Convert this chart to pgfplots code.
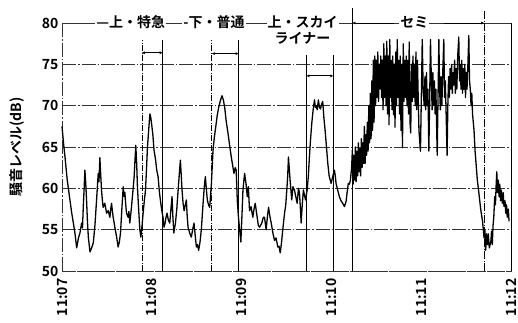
\documentclass[border=0pt]{standalone}
\usepackage{fontspec}
\setmainfont{Noto Sans CJK JP}[UprightFont={* Bold}]
\usepackage{pgfplots}
\pgfplotsset{compat=1.18}
\usetikzlibrary{arrows.meta}
\begin{document}
\begin{tikzpicture}
\begin{axis}[name=ax,
  scale only axis, width=449pt, height=248pt,
  xmin=0, xmax=300, ymin=50, ymax=80,
  xtick={0,60,120,180,240,300},
  xticklabels={11:07,11:08,11:09,11:10,11:11,11:12},
  ytick={50,55,60,65,70,75,80},
  x tick label style={rotate=90, anchor=east, font=\fontsize{14}{16}\selectfont, xshift=-4pt},
  y tick label style={font=\fontsize{14}{16}\selectfont},
  /pgf/number format/assume math mode=true,
  tick style={draw=none},
  ymajorgrids,
  grid style={black!80, line width=0.5pt, dash pattern=on 14pt off 2pt on 1.5pt off 2pt},
  axis line style={black!80, line width=0.5pt, dash pattern=on 14pt off 2pt on 1.5pt off 2pt},
  ylabel={騒音レベル(dB)},
  ylabel style={font=\fontsize{14}{16}\selectfont, yshift=11pt},
  clip=false,
]
% event markers
\draw[black, line width=0.5pt, dash pattern=on 6pt off 1.5pt on 1pt off 1.5pt] (axis cs:53.3,50) -- (axis cs:53.3,77.9);
\draw[black, line width=0.5pt] (axis cs:67.3,50) -- (axis cs:67.3,77.9);
\draw[black, line width=0.5pt, dash pattern=on 6pt off 1.5pt on 1pt off 1.5pt] (axis cs:100,50) -- (axis cs:100,77.9);
\draw[black, line width=0.5pt] (axis cs:118,50) -- (axis cs:118,77.9);
\draw[black, line width=0.5pt] (axis cs:163.3,50) -- (axis cs:163.3,76.1);
\draw[black, line width=0.5pt] (axis cs:181.3,50) -- (axis cs:181.3,76.1);
\draw[black, line width=0.5pt] (axis cs:194,50) -- (axis cs:194,81.8);
\draw[black, line width=0.5pt, dash pattern=on 8pt off 1.5pt on 1pt off 1.5pt] (axis cs:282,50) -- (axis cs:282,81.5);
\draw[black, line width=0.5pt] (axis cs:300,50) -- (axis cs:300,80);
% arrows
\draw[{Latex[length=3pt,width=3pt]}-{Latex[length=3pt,width=3pt]}, line width=0.9pt] (axis cs:53.3,76.4) -- (axis cs:67.3,76.4);
\draw[{Latex[length=3pt,width=3pt]}-{Latex[length=3pt,width=3pt]}, line width=0.9pt] (axis cs:100,76.3) -- (axis cs:118,76.3);
\draw[{Latex[length=3pt,width=3pt]}-{Latex[length=3pt,width=3pt]}, line width=0.9pt] (axis cs:163.3,73.6) -- (axis cs:181.3,73.6);
\draw[{Latex[length=3pt,width=3pt]}-, line width=0.8pt] (axis cs:194,80) -- (axis cs:222,80);
\draw[-{Latex[length=3pt,width=3pt]}, line width=0.8pt] (axis cs:255.3,80) -- (axis cs:282,80);
% labels
\node[fill=white, inner sep=1pt, font=\fontsize{14}{16}\selectfont] at (axis cs:46,80.05) {—上・特急};
\node[fill=white, inner sep=1pt, font=\fontsize{14}{16}\selectfont] at (axis cs:101.5,80.05) {-下・普通};
\node[fill=white, inner sep=1pt, align=center, font=\fontsize{14}{16}\selectfont] at (axis cs:160.7,79.1) {上・スカイ\\ライナー};
\node[fill=white, inner sep=1pt, font=\fontsize{14}{16}\selectfont] at (axis cs:235.5,80.05) {セミ};
% trace
\addplot[black, line width=1.3pt, line join=round] coordinates {
(0,67.5) (1,65.5) (2,63.8) (3.5,61) (5.3,58.6) (6.5,57) (7.6,55.8) (8.7,54.5) (9.8,52.8) (11,54)
(12,54.6) (13.1,55.8) (13.7,55.2) (14.2,57.7) (14.8,60) (15.3,62.2) (15.9,60.5) (16.4,58.6) (17,56) (17.6,54.1)
(18.7,52.3) (19.8,52.8) (20.9,53.4) (22,55.5) (23.1,58.6) (24.2,61.8) (24.7,60.8) (25.3,63.7) (25.9,61.5) (26.4,59.8)
(27,58.5) (27.5,57.7) (28.6,58.2) (29.8,57) (30.9,57.3) (32,56.5) (32.5,57.4) (33.1,58.2) (33.7,57.2) (34.2,56.5)
(35.3,55.3) (36.5,54.1) (37.5,52.9) (38.3,53.5) (39.1,54.6) (40,57.5) (40.9,60.2) (41.5,59) (42,59.5) (42.6,58)
(43.1,57) (44.2,56.5) (44.7,57.2) (45.3,55.8) (45.9,56.8) (46.4,57.7) (47.3,59.5) (48.2,61.4) (48.8,63.5) (49.3,65.2)
(49.9,63) (50.4,60.2) (51.2,57.5) (52,55) (52.7,54.1) (53.5,55.5) (54.2,57) (55,58.5) (55.8,59.8) (56.5,62.5)
(57.1,65) (57.9,67) (58.7,69) (59.3,68.6) (59.8,67.9) (60.7,66.5) (61.5,64.6) (62.5,63.5) (63.3,62.2) (64.2,61.4)
(65.1,59.5) (66,58.2) (66.8,57.2) (67.5,56.5) (68.2,55.3) (68.9,55.8) (69.5,56.5) (70.2,57) (71,56.2) (72,55.8)
(72.8,57.5) (73.5,59) (74.1,56.5) (74.7,54.6) (75.8,55.8) (76.7,57.5) (77.6,59.8) (78.4,61.8) (79.1,63.4) (79.7,61.5)
(80.2,59.8) (80.9,58.2) (81.6,57.3) (82.4,58) (83.1,58.6) (83.6,56.8) (84.2,55.3) (85.3,54.6) (86.4,54.1) (87.3,55)
(88.2,55.8) (89,54.3) (89.8,52.9) (90.5,53.2) (91.3,52.5) (92.2,53.5) (93.1,55) (94,57.5) (94.9,59.8) (95.4,60.8)
(95.8,61.4) (96.4,60) (97.1,58.6) (97.9,58) (98.7,57.7) (99.8,60.5) (100.9,64.6) (101.8,66.2) (102.7,67.4) (103.7,68.8)
(104.7,69.8) (105.8,70.6) (106.9,71.2) (107.8,70.7) (108.7,69.8) (109.8,68) (110.9,66.7) (112,65.2) (113.1,63.8) (114,62.8)
(114.9,61.8) (115.7,62.5) (116.4,62.2) (117.1,58.6) (117.9,56.5) (118.7,55) (119.5,53.5) (120.3,57) (120.9,59.8) (122,61.8)
(123,60.5) (123.8,59) (124.5,60.2) (125.3,57.3) (126.3,57.8) (127.5,56.5) (128.3,57.5) (129.1,58.2) (130.4,56.5) (131.2,55.5)
(132,55.3) (133.5,55.8) (134.5,56.5) (135.3,56.5) (136.4,55) (137.2,56.5) (138,57.7) (139,56.5) (139.8,55.8) (141,54.5)
(142,53.7) (143,54) (144.2,52.9) (145,53) (145.8,52.2) (146.7,53.5) (147.5,55) (148.7,57) (149.5,58) (150.2,59.8)
(150.8,61.5) (151.3,63.8) (151.8,62.5) (152.4,61) (153.5,58.6) (154.3,60.2) (155.3,59.8) (156.2,59) (157.1,58.2) (158,60)
(158.7,59.4) (159.3,57.5) (159.8,55.8) (160.5,58) (161.3,59.8) (162,59.2) (162.7,58.6) (163.8,59.8) (164.6,61.5) (165.3,63.8)
(166.1,66) (166.9,67.9) (167.8,69.5) (168.7,70.7) (169.3,69.8) (169.8,70) (170.5,69.5) (171.3,70.7) (172,69.8) (172.7,69.6)
(173.5,70.2) (174.2,70.5) (175,68.5) (175.8,67) (176.7,65) (177.6,63) (178.5,61.5) (179.8,60.6) (181,61.5) (182,62.2)
(182.6,61.5) (183.1,60.6) (184.2,59.8) (185.3,59) (186.4,58.5) (187.5,58.2) (188.7,57.8) (189.8,58.4) (190.5,59.5) (191.3,60.6)
(192,60.5) (192.7,61) (193.5,62.5)
(194,64.6) (194.5,60.5) (195,64) (195.5,61) (196,65) (196.5,60.8) (197,64.5) (197.5,61.5) (198,65.5) (198.5,62)
(199,64.8) (199.5,61.5) (200,66) (200.5,62.5) (201,65.5) (201.5,63) (202,67.5) (202.5,63) (203,66.5) (203.5,64)
(204,68) (204.5,64.5) (205,70) (205.5,65.5) (206,71.5) (206.5,66) (207,73) (207.5,67) (208,75.5) (208.5,68)
(209,76) (209.5,70) (210,75.5) (210.5,71) (211,76.5) (211.5,70.5) (212,75) (212.5,72) (213,76) (213.5,71)
(214,75.5) (214.5,69.5) (215,77.5) (215.5,71) (216,76) (216.5,70) (217,77.8) (217.5,69) (218,76) (218.5,67.7)
(219,78) (219.5,71) (220,75.5) (220.5,69.5) (221,76) (221.5,68.9) (222,75) (222.5,67.4) (223,76.5) (223.5,70)
(224,78) (224.5,71) (225,75.5) (225.5,69) (226,76) (226.5,67) (227,75) (227.5,64.9) (228,77.5) (228.5,70.5)
(229,75.5) (229.5,71) (230,76) (230.5,70) (231,75.5) (231.5,69) (232,77.7) (232.5,68) (233,66.7) (233.5,75)
(234,70.5) (234.5,76) (235,71) (235.5,75) (236,70) (236.5,76.5) (237,69.5) (237.5,75.5) (238,71) (238.5,67)
(239.5,64.5) (240,70) (240.7,78) (241.3,72) (242,70) (242.5,73.5) (243,69.5) (243.5,74) (244,70) (244.5,72)
(245.1,64.5) (245.6,70) (246.2,78) (246.8,73) (247.3,69.5) (247.8,74) (248.3,70) (248.8,73) (249.3,69) (249.8,72)
(250.7,64) (251.2,70.5) (251.8,78) (252.3,72) (252.8,69.5) (253.3,73.5) (253.8,70) (254.4,74) (255.1,78) (255.6,71)
(256.1,73) (256.6,69.5) (257.3,64) (257.8,70) (258.3,73.5) (258.8,71) (259.3,74.5) (259.8,72) (260.3,75) (260.8,71.5)
(261.3,74) (261.8,72.5) (262.3,75.5) (262.8,71.5) (263.3,74.5) (263.8,72) (264.4,76) (265.1,78.3) (265.6,73) (266.1,75)
(266.6,72) (267.1,75.5) (267.6,71.5) (268.1,74.5) (268.6,72) (269.1,75) (269.6,71) (270.1,74) (270.6,72) (271.2,75)
(271.8,78.5) (272.3,73) (272.8,72) (273.3,70) (273.8,71.5) (274.3,69) (275.3,67) (276,64.5) (277.5,61) (278.5,59.5)
(279.8,57.4) (281,56) (282,54) (282.5,55) (283.1,52.5) (283.6,54.5) (284.2,53.2) (284.8,54.5) (285.5,52.8) (286.5,53.5)
(287,54.8) (287.5,53.2) (288,55.5) (288.5,56.5) (289.1,59) (289.6,58) (290.1,60.5) (290.5,62) (291,59.5) (291.5,61)
(292,59) (292.5,60.5) (293,58.5) (293.5,59.8) (294.2,58.2) (294.8,59.5) (295.3,57.8) (296,58.5) (296.5,57) (297,58)
(297.5,56.5) (298.2,57.5) (298.7,56)
};
\end{axis}
\pgfresetboundingbox
\path[use as bounding box] ([xshift=-62pt,yshift=-51pt]ax.south west) rectangle ([xshift=7pt,yshift=23pt]ax.north east);
\end{tikzpicture}
\end{document}
